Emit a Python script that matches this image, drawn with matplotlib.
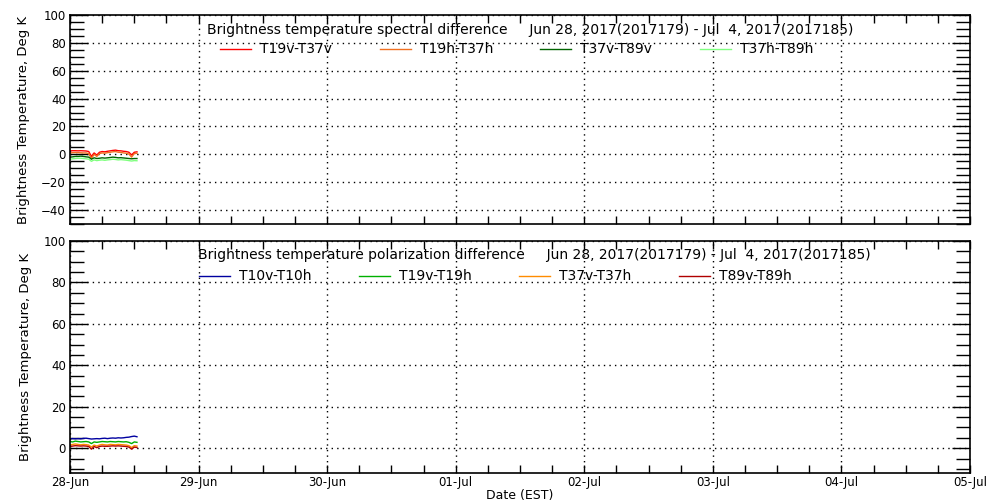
import matplotlib
matplotlib.use("Agg")
import matplotlib.pyplot as plt
import matplotlib.dates as mdates
from matplotlib.ticker import MultipleLocator
import datetime as dt

# ---------------- data ----------------
hours = [0, 0.5, 1, 1.5, 2, 2.5, 3, 3.5, 4, 4.5, 5, 5.5, 6, 6.5, 7, 7.5,
         8, 8.5, 9, 9.5, 10, 10.5, 11, 11.5, 12, 12.5]

# spectral differences
t19v_t37v = [2.5, 2.6, 2.6, 2.5, 2.6, 2.5, 2.4, 2.0, -1.5, 1.0, -0.5, 1.5, 2.0,
             1.8, 2.2, 2.5, 2.8, 3.0, 2.6, 2.5, 2.2, 2.0, 1.5, -0.5, 1.5, 1.8]
t19h_t37h = [1.0, 1.2, 1.3, 1.2, 1.1, 1.0, 1.0, 0.5, -3.0, 0.0, -1.5, 0.5, 1.0,
             0.8, 1.2, 1.5, 1.8, 2.0, 1.5, 1.4, 1.0, 0.8, 0.2, -2.0, 0.5, 0.8]
t37v_t89v = [-2.0, -1.8, -1.5, -1.5, -1.3, -1.5, -1.8, -2.0, -3.5, -2.5, -3.0, -2.8, -2.5,
             -2.7, -2.5, -2.3, -2.0, -2.2, -2.5, -2.4, -2.6, -2.8, -3.0, -3.2, -3.0, -3.0]
t37h_t89h = [-3.5, -3.2, -3.0, -2.8, -2.8, -3.0, -3.2, -3.5, -5.0, -4.0, -4.5, -4.2, -4.0,
             -4.3, -4.0, -3.8, -3.5, -3.7, -4.0, -3.8, -4.0, -4.2, -4.5, -4.8, -4.5, -4.6]

# polarization differences
t10v_t10h = [4.5, 4.6, 4.5, 4.6, 4.5, 4.7, 4.8, 4.6, 4.4, 4.5, 4.6, 4.5, 4.7,
             4.8, 4.6, 4.8, 4.9, 4.8, 5.0, 4.9, 5.0, 5.2, 5.3, 5.6, 5.8, 5.5]
t19v_t19h = [3.2, 3.0, 3.4, 3.2, 3.0, 3.1, 3.2, 3.0, 2.2, 3.0, 2.8, 3.0, 3.2,
             3.1, 3.0, 3.2, 3.1, 3.0, 3.2, 3.1, 3.0, 3.1, 2.8, 2.2, 3.0, 2.8]
t37v_t37h = [1.5, 1.8, 2.0, 1.8, 1.6, 1.8, 1.7, 1.5, 0.5, 1.5, 1.0, 1.5, 1.8,
             1.6, 1.5, 1.8, 1.7, 1.6, 1.8, 1.7, 1.6, 1.5, 1.2, 0.3, 1.2, 1.0]
t89v_t89h = [0.8, 1.0, 1.2, 1.1, 1.0, 1.1, 1.0, 0.8, -0.5, 0.8, 0.2, 0.8, 1.0,
             0.9, 0.9, 1.0, 1.1, 1.0, 1.1, 1.0, 0.9, 0.8, 0.5, -0.5, 0.5, 0.3]

top_labels = ["T19v-T37v", "T19h-T37h", "T37v-T89v", "T37h-T89h"]
bot_labels = ["T10v-T10h", "T19v-T19h", "T37v-T37h", "T89v-T89h"]
top_title = "Brightness temperature spectral difference     Jun 28, 2017(2017179) - Jul  4, 2017(2017185)"
bot_title = "Brightness temperature polarization difference     Jun 28, 2017(2017179) - Jul  4, 2017(2017185)"

start = dt.datetime(2017, 6, 28)
end = dt.datetime(2017, 7, 5)
times = [start + dt.timedelta(hours=h) for h in hours]

top_colors = ["#ff0000", "#f07020", "#006400", "#80ff80"]
bot_colors = ["#0000a0", "#00b000", "#ff8c00", "#b00000"]

plt.rcParams['font.family'] = ['DejaVu Sans']

fig = plt.figure(figsize=(10, 5), dpi=100)
ax1 = fig.add_axes([0.07, 0.552, 0.90, 0.418])
ax2 = fig.add_axes([0.07, 0.054, 0.90, 0.464])

def style(ax, ylim, show_x):
    ax.set_xlim(start, end)
    ax.set_ylim(*ylim)
    ax.xaxis.set_major_locator(mdates.DayLocator())
    ax.xaxis.set_minor_locator(mdates.HourLocator(byhour=[6, 12, 18]))
    ax.xaxis.set_major_formatter(mdates.DateFormatter('%d-%b'))
    ax.yaxis.set_major_locator(MultipleLocator(20))
    ax.yaxis.set_minor_locator(MultipleLocator(5))
    ax.tick_params(axis='y', which='major', direction='in', length=13, width=1,
                   left=True, right=True, labelsize=8.5, pad=3)
    ax.tick_params(axis='y', which='minor', direction='in', length=10, width=1,
                   left=True, right=True)
    ax.tick_params(axis='x', which='both', direction='in', length=6, width=1,
                   top=True, bottom=True, labelsize=8.5, labelbottom=show_x, pad=2)
    ax.grid(True, which='major', color='black', linestyle=(0, (1, 3)), linewidth=1)
    for s in ax.spines.values():
        s.set_linewidth(1.2)
    ax.set_ylabel("Brightness Temperature, Deg K", fontsize=9.5, labelpad=8)

style(ax1, (-50, 100), False)
style(ax2, (-12, 100), True)
ax2.set_xlabel("Date (EST)", fontsize=9, labelpad=0)

for vals, c in zip([t19v_t37v, t19h_t37h, t37v_t89v, t37h_t89h], top_colors):
    ax1.plot(times, vals, color=c, linewidth=1)
for vals, c in zip([t10v_t10h, t19v_t19h, t37v_t37h, t89v_t89h], bot_colors):
    ax2.plot(times, vals, color=c, linewidth=1)

def legend_row(ax, labels, colors, x0, y):
    tr = ax.transAxes
    for i, (lab, c) in enumerate(zip(labels, colors)):
        xs = x0 + i * 160 / 900
        ax.plot([xs, xs + 31 / 900], [y, y], color=c, linewidth=1, transform=tr, clip_on=False)
        ax.text(xs + 40 / 900, y, lab, transform=tr, fontsize=10, va='center', ha='left')

ax1.text((530 - 70) / 900, (224 - 30) / 209, top_title, transform=ax1.transAxes,
         fontsize=10, ha='center', va='center')
legend_row(ax1, top_labels, top_colors, (220 - 70) / 900, (224 - 49) / 209)

ax2.text((534 - 70) / 900, (473 - 255) / 232, bot_title, transform=ax2.transAxes,
         fontsize=10, ha='center', va='center')
legend_row(ax2, bot_labels, bot_colors, (199 - 70) / 900, (473 - 276) / 232)

fig.savefig("out.png", dpi=100)
